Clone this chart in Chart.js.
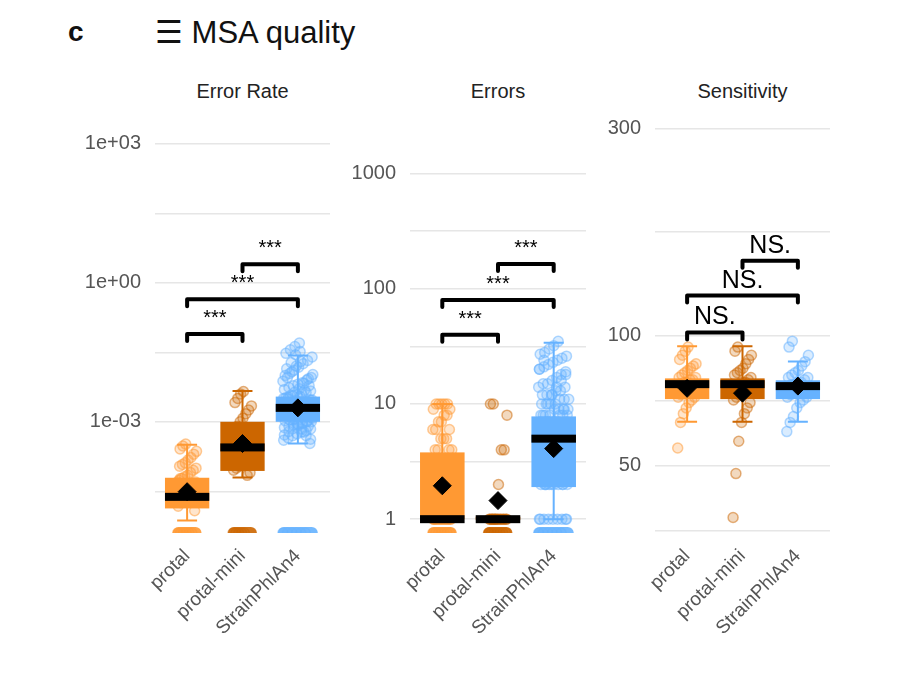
<!DOCTYPE html>
<html>
<head>
<meta charset="utf-8">
<script src="https://cdn.jsdelivr.net/npm/chart.js@4"></script>
<style>
  body { margin: 0; background: #fff; font-family: "Liberation Sans", Arial, sans-serif; }
  #page { position: relative; width: 900px; height: 675px; overflow: hidden; }
  .panel { position: absolute; top: 90px; height: 575px; }
  .txt { position: absolute; color: #111; white-space: nowrap; }
  .ptitle { position: absolute; top: 80px; font-size: 20px; color: #222; text-align: center; }
</style>
</head>
<body>
<div id="page">
  <div class="txt" style="left:68px;top:16px;font-size:28px;font-weight:bold;">c</div>
  <div class="txt" style="left:155px;top:14px;font-size:31px;">☰ MSA quality</div>
  <div class="ptitle" style="left:155px;width:175px;">Error Rate</div>
  <div class="ptitle" style="left:410px;width:176px;">Errors</div>
  <div class="ptitle" style="left:655px;width:175px;">Sensitivity</div>
  <div class="panel" style="left:0;width:340px;"><canvas id="c1"></canvas></div>
  <div class="panel" style="left:300px;width:296px;"><canvas id="c2"></canvas></div>
  <div class="panel" style="left:540px;width:300px;"><canvas id="c3"></canvas></div>
</div>
<script>
const tools = ["protal", "protal-mini", "StrainPhlAn4"];
const colors = ["#FF9933", "#CC6600", "#66B2FF"];

// ---- Error Rate ----
const rateProtal = [0,0,0,0,0,0, 1.2e-5,1.5e-5,1.8e-5,2e-5,2.2e-5,2.5e-5,2.8e-5,3e-5,3.2e-5,3.5e-5,3.8e-5,4e-5,4.2e-5,4.5e-5,5e-5,5.5e-5,6e-5,6.5e-5,7e-5,8e-5,9e-5,1e-4,1.1e-4,1.2e-4,1.3e-4,1.5e-4,1.7e-4,2e-4,2.3e-4,2.6e-4,3e-4,3.3e-4,4e-5,3e-5,2.4e-5,5e-5,6e-5];
const rateMini = [0,0,0,0,0, 7e-5,8e-5,9e-5,1e-4,1.1e-4,1.3e-4,1.5e-4,1.8e-4,2e-4,2.4e-4,2.8e-4,3.2e-4,3.6e-4,4e-4,5e-4,6e-4,7e-4,8e-4,1e-3,1.2e-3,1.5e-3,1.8e-3,2.2e-3,2.6e-3,3.2e-3,4e-3,4.5e-3];
const rateStrain = [0,0,0,0,0,0,
  3.4e-4,4e-4,4.5e-4,5e-4,5.5e-4,6e-4,6.5e-4,7e-4,7.5e-4,8e-4,8.5e-4,9e-4,9.5e-4,1e-3,1e-3,1.05e-3,1.1e-3,1.15e-3,1.2e-3,1.25e-3,1.3e-3,1.35e-3,1.4e-3,1.45e-3,1.5e-3,1.55e-3,1.6e-3,1.7e-3,1.75e-3,1.8e-3,1.9e-3,2e-3,2e-3,2.1e-3,2.2e-3,2.3e-3,2.4e-3,2.5e-3,2.6e-3,2.7e-3,2.8e-3,3e-3,3.2e-3,3.4e-3,3.6e-3,3.8e-3,4e-3,4.3e-3,4.6e-3,5e-3,5.5e-3,6e-3,6.5e-3,7e-3,8e-3,9e-3,1e-2,1.1e-2,1.3e-2,1.5e-2,1.8e-2,2.1e-2,2.5e-2,3e-2,3.6e-2,4.2e-2,5e-2,
  6e-4,8e-4,1.2e-3,1.6e-3,2.2e-3,2.9e-3,3.5e-3,4.8e-3,6e-3,7.5e-3,9e-3,1.2e-2,1.6e-2,2e-2,1.3e-3,1.7e-3,2.4e-3,3.1e-3,1.1e-3,9e-4,7e-4,5e-4,
  4.2e-4,5.2e-4,6.2e-4,7.2e-4,8.2e-4,9.2e-4,1.02e-3,1.22e-3,1.42e-3,1.62e-3,1.85e-3,2.05e-3,2.35e-3,2.65e-3,2.95e-3,3.3e-3,3.7e-3,4.4e-3,5.2e-3,6.8e-3,8.5e-3,1.05e-2,1.4e-2,1.9e-2,2.8e-2,3.3e-2];
const rateBox = [
  { lo: 7.4e-6, q1: 1.35e-5, med: 2.4e-5, q3: 6.2e-5, hi: 3.2e-4, mean: 3.1e-5 },
  { lo: 6.3e-5, q1: 8.7e-5, med: 2.8e-4, q3: 1e-3, hi: 4.6e-3, mean: 3.4e-4 },
  { lo: 3.4e-4, q1: 1e-3, med: 2e-3, q3: 3.5e-3, hi: 2.7e-2, mean: 2e-3 }
];
const rateBrackets = [[0, 1, 0.079, "***"], [0, 2, 0.44, "***"], [1, 2, 2.5, "***"]];

// ---- Errors ----
const errProtal = [0,0,0,0,0,0,0, 1,1,1,1,1,1,1,1,1,1,1,1,1,1,1,2,2,2,2,2,2,3,3,3,3,3,4,4,4,4,5,5,5,6,6,6,7,7,8,8,9,9,10,10,10,10,10];
const errMini = [0,0,0,0,0,0,0,0, 1,1,1,1,1,1,1,1,1,1,1,1,1,1,1,1,2,4,4,8,10,10];
const errStrain = [0,0,0,0,0,0, 1,1,1,1,1,1,1,1,1,2,2,2,2,2,2,2,2,3,3,3,3,3,3,3,3,4,4,4,4,4,4,4,4,5,5,5,5,5,5,5,5,6,6,6,6,6,6,6,7,7,7,7,7,7,8,8,8,8,8,9,9,9,9,10,10,10,10,11,11,11,12,12,12,13,13,14,14,15,15,16,17,18,19,20,21,22,23,24,25,26,27,28,30,32,35,
  2,3,4,5,6,7,3,4,5,6,2,3,5,8,9,6,4,7,2,3,4,5,6,8,10,12,14,16,18,20,24];
const errBox = [
  { lo: 1, q1: 1, med: 1, q3: 3.8, hi: 10, mean: 1.95 },
  { lo: 1, q1: 1, med: 1, q3: 1.05, hi: 1.05, mean: 1.45 },
  { lo: 1, q1: 1.9, med: 5, q3: 7.8, hi: 34, mean: 4.1 }
];
const errBrackets = [[0, 1, 40, "***"], [0, 2, 80, "***"], [1, 2, 164, "***"]];

// ---- Sensitivity ----
const sensProtal = [55,63,66,68,70,71,72,72,73,74,75,75,76,76,77,77,78,78,79,79,80,80,81,82,83,84,85,86,88,90,92,94];
const sensMini = [38,48,57,63,66,68,70,71,72,73,74,74,75,76,76,77,77,78,78,79,80,81,82,83,84,86,88,90,92,94];
const sensStrain = [60,63,65,68,70,71,72,72,73,74,74,75,75,76,76,77,77,78,78,79,80,80,81,82,83,85,87,90,94,97];
const sensBox = [
  { lo: 63.2, q1: 71.3, med: 77.2, q3: 79.6, hi: 94.4, mean: 75.5 },
  { lo: 63.2, q1: 71.3, med: 77.2, q3: 79.6, hi: 94.4, mean: 73.6 },
  { lo: 63.2, q1: 71.3, med: 76.4, q3: 78.8, hi: 87.1, mean: 76.4 }
];
const sensBrackets = [[0, 1, 101.6, "NS."], [0, 2, 123.6, "NS."], [1, 2, 148.7, "NS."]];

function hexA(hex, a) {
  const n = parseInt(hex.slice(1), 16);
  return "rgba(" + (n >> 16) + "," + ((n >> 8) & 255) + "," + (n & 255) + "," + a + ")";
}

function jitter(i, w) {
  return (((i * 7919) % 41) - 20) / 20 * w;
}

function makePanel(id, groups, boxes, brackets, opt) {
  const datasets = groups.map((vals, g) => ({
    type: "scatter",
    data: vals.map((v, i) => ({ x: g + jitter(i, opt.jit[g]), y: v === 0 ? opt.min : v })),
    pointRadius: 5,
    pointBorderWidth: 1.5,
    borderColor: hexA(colors[g], 0.5),
    backgroundColor: hexA(colors[g], 0.25),
    order: 2
  }));
  datasets.push({
    type: "scatter",
    data: boxes.map((b, g) => ({ x: g, y: b.mean })),
    pointStyle: "rectRot",
    pointRadius: 9,
    backgroundColor: "#000",
    borderColor: "#000",
    order: 1
  });

  const boxPlugin = {
    id: "boxes",
    beforeDatasetDraw(chart, args) {
      if (args.index !== groups.length) return;
      const ctx = chart.ctx, xs = chart.scales.x, ys = chart.scales.y;
      const area = chart.chartArea;
      ctx.save();
      ctx.beginPath();
      ctx.rect(area.left, area.top, area.right - area.left, area.bottom - area.top);
      ctx.clip();
      boxes.forEach((b, g) => {
        const cx = xs.getPixelForValue(g);
        const half = xs.getPixelForValue(g + 0.4) - cx;
        const cap = half * 0.45;
        ctx.strokeStyle = colors[g];
        ctx.lineWidth = 2;
        ctx.beginPath();
        ctx.moveTo(cx, ys.getPixelForValue(b.lo));
        ctx.lineTo(cx, ys.getPixelForValue(b.hi));
        [b.lo, b.hi].forEach(v => {
          const py = ys.getPixelForValue(v);
          ctx.moveTo(cx - cap, py);
          ctx.lineTo(cx + cap, py);
        });
        ctx.stroke();
        const t = ys.getPixelForValue(b.q3), bt = ys.getPixelForValue(b.q1);
        ctx.fillStyle = colors[g];
        ctx.fillRect(cx - half, t, half * 2, Math.max(bt - t, 3));
        ctx.fillStyle = "#000";
        const m = ys.getPixelForValue(b.med);
        ctx.fillRect(cx - half, m - 4, half * 2, 8);
      });
      // zero-value rows at the floor
      groups.forEach((vals, g) => {
        if (!vals.includes(0)) return;
        const cx = xs.getPixelForValue(g);
        const half = xs.getPixelForValue(g + opt.jit[g]) - cx + 5;
        ctx.fillStyle = hexA(colors[g], 0.9);
        ctx.beginPath();
        ctx.roundRect(cx - half, area.bottom - 6, half * 2, 12, 6);
        ctx.fill();
      });
      ctx.restore();
    },
    afterDatasetsDraw(chart) {
      const ctx = chart.ctx, xs = chart.scales.x, ys = chart.scales.y;
      ctx.save();
      ctx.strokeStyle = "#000";
      ctx.fillStyle = "#000";
      ctx.lineWidth = 4;
      ctx.lineCap = "round";
      ctx.lineJoin = "round";
      brackets.forEach(([a, b, y, label]) => {
        const x1 = xs.getPixelForValue(a), x2 = xs.getPixelForValue(b);
        const py = ys.getPixelForValue(y);
        ctx.beginPath();
        ctx.moveTo(x1, py + 7);
        ctx.lineTo(x1, py);
        ctx.lineTo(x2, py);
        ctx.lineTo(x2, py + 7);
        ctx.stroke();
        ctx.font = opt.labelFont;
        ctx.textAlign = "center";
        ctx.textBaseline = "alphabetic";
        ctx.fillText(label, (x1 + x2) / 2, py - opt.labelGap);
      });
      ctx.restore();
    }
  };

  new Chart(document.getElementById(id), {
    data: { datasets: datasets },
    options: {
      responsive: true,
      maintainAspectRatio: false,
      animation: false,
      layout: { padding: { top: 20, right: opt.padRight, left: 0, bottom: 0 } },
      plugins: { legend: { display: false }, tooltip: { enabled: false } },
      scales: {
        x: {
          type: "linear",
          min: -0.58, max: 2.58,
          afterBuildTicks(ax) { ax.ticks = tools.map((t, i) => ({ value: i })); },
          afterFit(ax) { ax.height = 132; },
          grid: { display: false },
          border: { display: false },
          ticks: {
            callback: v => tools[v],
            maxRotation: 45, minRotation: 45,
            font: { size: 19, family: "Liberation Sans" },
            color: "#555",
            padding: 4
          }
        },
        y: {
          type: "logarithmic",
          min: opt.min, max: opt.max,
          afterBuildTicks(ax) { ax.ticks = opt.ticks.map(v => ({ value: v })); },
          afterFit(ax) { ax.width = opt.yWidth; },
          grid: { color: "#e6e6e6", lineWidth: 1.5, drawTicks: false },
          border: { display: false },
          ticks: {
            callback: v => opt.labels[opt.ticks.indexOf(v)] || "",
            font: { size: 20, family: "Liberation Sans" },
            color: "#555",
            padding: 14,
            autoSkip: false
          }
        }
      }
    },
    plugins: [boxPlugin]
  });
}

makePanel("c1", [rateProtal, rateMini, rateStrain], rateBox, rateBrackets, {
  min: Math.pow(10, -5.4), max: Math.pow(10, 3.6),
  ticks: [1e3, Math.pow(10, 1.5), 1, Math.pow(10, -1.5), 1e-3, Math.pow(10, -4.5)],
  labels: ["1e+03", "", "1e+00", "", "1e-03", ""],
  yWidth: 155, padRight: 10, jit: [0.17, 0.17, 0.27],
  labelFont: "20px 'Liberation Sans'", labelGap: 10
});
makePanel("c2", [errProtal, errMini, errStrain], errBox, errBrackets, {
  min: Math.pow(10, -0.12), max: Math.pow(10, 3.5),
  ticks: [1000, Math.pow(10, 2.5), 100, Math.pow(10, 1.5), 10, Math.pow(10, 0.5), 1],
  labels: ["1000", "", "100", "", "10", "", "1"],
  yWidth: 110, padRight: 10, jit: [0.17, 0.17, 0.27],
  labelFont: "20px 'Liberation Sans'", labelGap: 10
});
makePanel("c3", [sensProtal, sensMini, sensStrain], sensBox, sensBrackets, {
  min: 35, max: 321,
  ticks: [300, 173.2, 100, 70.7, 50, 35.4],
  labels: ["300", "", "100", "", "50", ""],
  yWidth: 115, padRight: 10, jit: [0.17, 0.17, 0.2],
  labelFont: "25px 'Liberation Sans'", labelGap: 8
});
</script>
</body>
</html>
